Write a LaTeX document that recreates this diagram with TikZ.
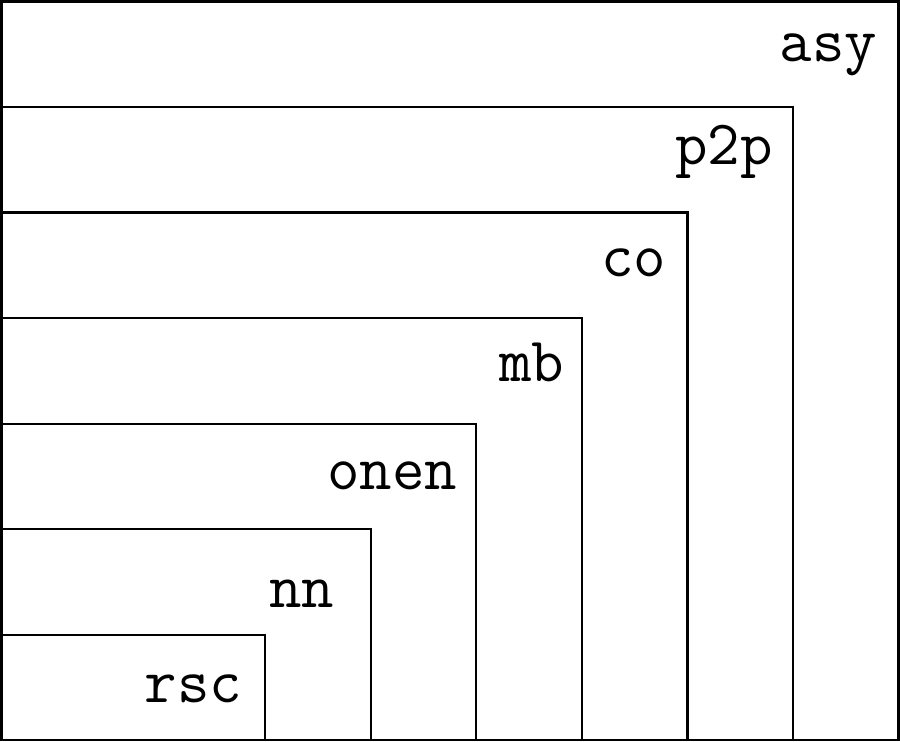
\documentclass[tikz,border=0pt]{standalone}
\begin{document}
\begin{tikzpicture}[every node/.style={inner sep=0pt, outer sep=0pt}]
    \tikzset{tier/.style={draw, line width=0.6pt, anchor=south west},
             tag/.style={font=\fontsize{17}{20}\selectfont\ttfamily, anchor=base east}}
    \useasboundingbox (-0.015,-0.015) rectangle (8.515,7.015);
        \node[tier, minimum width=8.5cm, minimum height=7cm] (asy) at (0,0) {};
        \node[tier, minimum width=7.5cm, minimum height=6cm] (p2p) at (0,0) {};
        \node[tier, minimum width=6.5cm, minimum height=5cm] (co) at (0,0) {};
        \node[tier, minimum width=5.5cm, minimum height=4cm] (mb) at (0,0) {};
        \node[tier, minimum width=4.5cm, minimum height=3cm] (onen) at (0,0) {};
        \node[tier, minimum width=3.5cm, minimum height=2cm] (nn) at (0,0) {};
        \node[tier, minimum width=2.5cm, minimum height=1cm] (rsc) at (0,0) {};
        \node[tag] (asylabel) at ([xshift=-0.2cm, yshift=-0.57cm]asy.north east) {asy};
        \node[tag] (p2plabel) at ([xshift=-0.19cm, yshift=-0.54cm]p2p.north east) {p2p};
        \node[tag] (colabel) at ([xshift=-0.2cm, yshift=-0.61cm]co.north east) {co};
        \node[tag] (mblabel) at ([xshift=-0.17cm, yshift=-0.6cm]mb.north east) {mb};
        \node[tag] (onenlabel) at ([xshift=-0.18cm, yshift=-0.62cm]onen.north east) {onen};
        \node[tag] (nnlabel) at ([xshift=-0.35cm, yshift=-0.74cm]nn.north east) {nn};
        \node[tag] (rsclabel) at ([xshift=-0.22cm, yshift=-0.64cm]rsc.north east) {rsc};
    \end{tikzpicture}
\end{document}
